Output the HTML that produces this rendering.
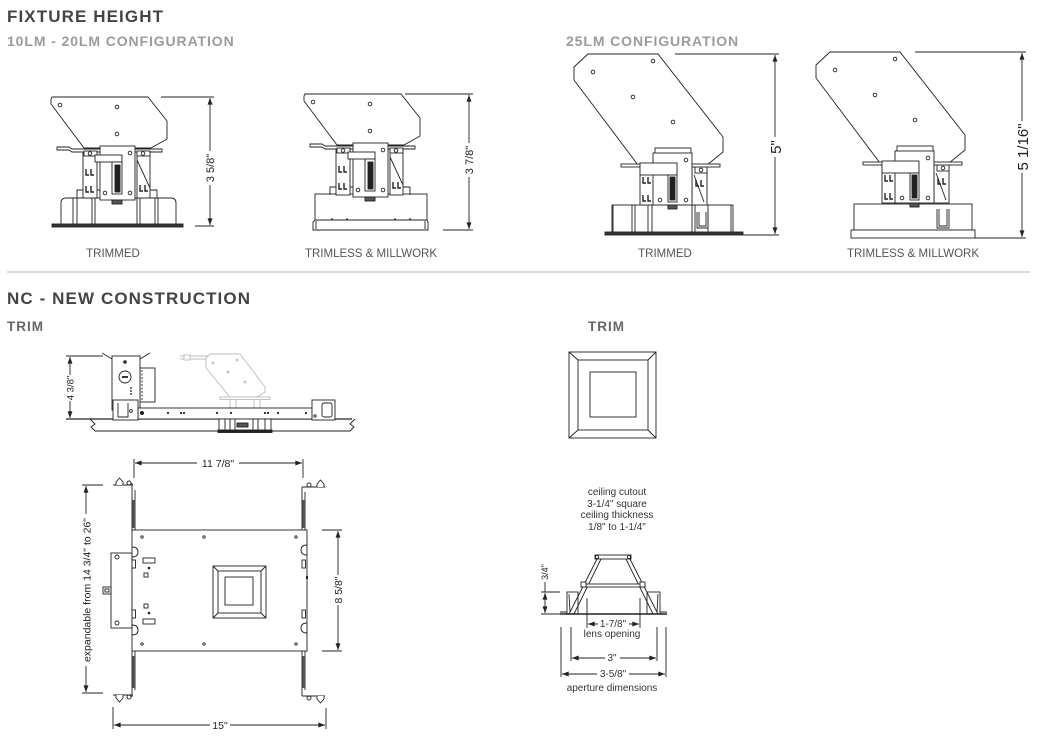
<!DOCTYPE html>
<html><head><meta charset="utf-8">
<style>
html,body{margin:0;padding:0;background:#fff;width:1039px;height:739px;overflow:hidden}
svg{display:block}
text{font-family:"Liberation Sans",Arial,sans-serif}
.h1{font-weight:bold;font-size:17px;fill:#444;letter-spacing:1.1px}
.h2{font-weight:bold;font-size:14px;fill:#9b9b9b;letter-spacing:0.9px}
.h3{font-weight:bold;font-size:13.5px;fill:#666;letter-spacing:1px}
.lb{font-size:11.5px;fill:#555}
.dm{font-size:10.5px;fill:#222}
.sm{font-size:10px;fill:#333}
</style></head><body>
<svg width="1039" height="739" viewBox="0 0 1039 739" xmlns="http://www.w3.org/2000/svg">
<defs>
<marker id="a" viewBox="0 0 8 6" refX="8" refY="3" markerWidth="7" markerHeight="5" orient="auto-start-reverse" markerUnits="userSpaceOnUse"><path d="M0,0L8,3L0,6Z" fill="#222"/></marker>
</defs>

<!-- Headings -->
<text class="h1" x="7" y="22">FIXTURE HEIGHT</text>
<text class="h2" x="7" y="46">10LM - 20LM CONFIGURATION</text>
<text class="h2" x="566" y="46">25LM CONFIGURATION</text>
<line x1="7" y1="272" x2="1030" y2="272" stroke="#cfcfcf" stroke-width="1.5"/>
<text class="h1" x="7" y="304">NC - NEW CONSTRUCTION</text>
<text class="h3" x="7" y="331">TRIM</text>
<text class="h3" x="588" y="331">TRIM</text>

<!-- ============ Fixture 1 (10LM trimmed) ============ -->
<g fill="#fff" stroke="#222" stroke-width="0.9">
  <path d="M61,225 L61,203 Q61,198 66,198 L171,198 Q176,198 176,203 L176,225"/>
  <path d="M73,198V225M77,198V225M92,198V225M95,198V225M137,198V225M140,198V225M155,198V225M158,198V225" fill="none"/>
  <rect x="52" y="224" width="131" height="3" fill="#333"/>
</g>
<g id="f1u" fill="#fff" stroke="#222" stroke-width="0.9">
  <path d="M52,97 L148,97 L167,121 L167,139 L151,148 L84,148 L51,104 L51,99 Z"/>
  <circle cx="60" cy="105" r="1.8"/>
  <circle cx="117" cy="107" r="1.8"/>
  <circle cx="117" cy="134" r="1.8"/>
  <path d="M77,198 V190 H83 M97,190 H100" fill="none"/>
  <rect x="83" y="152" width="14" height="46"/>
  <path d="M86,169v6h3M91,169v6h3M86,186v6h3M91,186v6h3" fill="none" stroke-width="1.4"/>
  <path d="M150,190 H157 V198" fill="none"/>
  <rect x="137" y="152" width="13" height="46"/>
  <path d="M137,160 L150,188" fill="none"/>
  <path d="M140,185v6h3M145,185v6h3" fill="none" stroke-width="1.4"/>
  <path d="M57,147 L69,147 L72,149 L162,149 L162,152 L72,152 L69,150 L57,150 Z"/>
  <rect x="84" y="151" width="13" height="5"/>
  <circle cx="90" cy="153.5" r="1.8"/>
  <rect x="137" y="151" width="13" height="5"/>
  <circle cx="143" cy="153.5" r="1.8"/>
  <rect x="100" y="146" width="35" height="54"/>
  <rect x="95" y="155" width="27" height="7"/>
  <rect x="112" y="162" width="10" height="32"/>
  <rect x="115" y="165" width="5" height="27" fill="#222"/>
  <circle cx="130" cy="153" r="1.8"/>
  <circle cx="105" cy="193" r="1.8"/>
  <circle cx="130" cy="193" r="1.8"/>
  <rect x="112" y="200" width="10" height="4" fill="#555"/>
</g>
<!-- dim 3 5/8 -->
<g stroke="#222" stroke-width="0.9" fill="none">
  <path d="M161,97H214M195,226H214"/>
  <line x1="210" y1="98" x2="210" y2="225" marker-start="url(#a)" marker-end="url(#a)"/>
</g>
<rect x="204" y="151" width="12" height="34" fill="#fff"/>
<text class="dm" style="font-size:11px" text-anchor="middle" transform="translate(214,168) rotate(-90)">3 5/8&quot;</text>
<text class="lb" x="113" y="257" text-anchor="middle">TRIMMED</text>

<!-- ============ Fixture 2 (10LM trimless) ============ -->
<g fill="#fff" stroke="#222" stroke-width="0.9">
  <rect x="315" y="194" width="112" height="26"/>
  <path d="M315,220 L313,222 L313,230 L428,230 L428,222 L427,220 Z"/>
  <path d="M316,221 V229 M425,221 V229" fill="none"/>
</g>
<use href="#f1u" transform="translate(253,-3)"/>
<g fill="#333"><circle cx="332" cy="219" r="0.9"/><circle cx="347" cy="219" r="0.9"/><circle cx="395" cy="219" r="0.9"/><circle cx="410" cy="219" r="0.9"/></g>
<g stroke="#222" stroke-width="0.9" fill="none">
  <path d="M405,94H473M443,230H473"/>
  <line x1="469" y1="95" x2="469" y2="229" marker-start="url(#a)" marker-end="url(#a)"/>
</g>
<rect x="463" y="143" width="12" height="34" fill="#fff"/>
<text class="dm" style="font-size:11px" text-anchor="middle" transform="translate(473,160) rotate(-90)">3 7/8&quot;</text>
<text class="lb" x="371" y="257" text-anchor="middle">TRIMLESS &amp; MILLWORK</text>

<!-- ============ Fixture 3 (25LM trimmed) ============ -->
<g fill="#fff" stroke="#222" stroke-width="0.9">
  <rect x="612" y="205" width="121" height="28"/>
  <path d="M613,205V233M632,205V233M635,205V233M648,205V233M652,205V233M692,205V233M695,205V233M708,205V233M731,205V233" fill="none"/>
  <path d="M697,212 V228 H708 V212 M699,212 V226 H706 V212" fill="none"/>
  <rect x="605" y="232" width="138" height="3" fill="#333"/>
</g>
<g id="f3u" fill="#fff" stroke="#222" stroke-width="0.9">
  <path d="M588,54 L658,54 L723,137 L723,152 L707,165 L638,165 L574,80 L574,67 Z"/>
  <circle cx="593" cy="72" r="1.8"/>
  <circle cx="653" cy="61" r="1.8"/>
  <circle cx="633" cy="97" r="1.8"/>
  <circle cx="673" cy="122" r="1.8"/>
  <rect x="640" y="165" width="15" height="40"/>
  <path d="M643,177v6h3M648,177v6h3M643,195v6h3M648,195v6h3" fill="none" stroke-width="1.4"/>
  <rect x="692" y="167" width="15" height="38"/>
  <path d="M694,175 L704,202" fill="none"/>
  <rect x="695" y="167" width="12" height="6"/>
  <circle cx="701" cy="170" r="1.8"/>
  <path d="M696,180v6h3M701,180v6h3" fill="none" stroke-width="1.4"/>
  <rect x="621" y="164" width="99" height="3"/>
  <rect x="655" y="148" width="36" height="6"/>
  <rect x="653" y="153" width="39" height="52"/>
  <rect x="640" y="163" width="37" height="12"/>
  <rect x="668" y="175" width="9" height="27"/>
  <rect x="670" y="177" width="5" height="23" fill="#222"/>
  <circle cx="686" cy="160" r="1.8"/>
  <circle cx="660" cy="200" r="1.8"/>
  <circle cx="686" cy="200" r="1.8"/>
  <rect x="668" y="205" width="9" height="4" fill="#555"/>
</g>
<g stroke="#222" stroke-width="0.9" fill="none">
  <path d="M675,54H779M743,235H779"/>
  <line x1="775" y1="55" x2="775" y2="234" marker-start="url(#a)" marker-end="url(#a)"/>
</g>
<rect x="767" y="137" width="16" height="20" fill="#fff"/>
<text class="dm" style="font-size:15px" text-anchor="middle" transform="translate(781,147) rotate(-90)">5&quot;</text>
<text class="lb" x="665" y="257" text-anchor="middle">TRIMMED</text>

<!-- ============ Fixture 4 (25LM trimless) ============ -->
<g fill="#fff" stroke="#222" stroke-width="0.9">
  <rect x="854" y="204" width="118" height="26"/>
  <rect x="851" y="230" width="124" height="8"/>
  <path d="M937,209 V228 H949 V209 M939,209 V226 H947 V209" fill="none"/>
</g>
<use href="#f3u" transform="translate(242,-2)"/>
<g stroke="#222" stroke-width="0.9" fill="none">
  <path d="M915,52H1026M975,238H1026"/>
  <line x1="1022" y1="53" x2="1022" y2="237" marker-start="url(#a)" marker-end="url(#a)"/>
</g>
<rect x="1014" y="121" width="16" height="52" fill="#fff"/>
<text class="dm" style="font-size:15px" text-anchor="middle" transform="translate(1028,147) rotate(-90)">5 1/16&quot;</text>
<text class="lb" x="913" y="257" text-anchor="middle">TRIMLESS &amp; MILLWORK</text>

<!-- ============ NC side view ============ -->
<g fill="#fff" stroke="#bbb" stroke-width="0.9">
  <path d="M180,356 H208 M180,359 H208" fill="none"/>
  <rect x="184" y="355" width="6" height="5"/>
  <rect x="230" y="399" width="30" height="10"/>
  <path d="M236,399V409 M254,399V409" fill="none"/>
  <path d="M210,354 L240,354 L265,387 L265,392 L257,397 L230,397 L206,368 L206,358 Z"/>
  <circle cx="213" cy="363" r="1"/><circle cx="237" cy="360" r="1"/><circle cx="228" cy="372" r="1"/><circle cx="245" cy="382" r="1"/>
  <rect x="220" y="397" width="50" height="2.5"/>
</g>
<g fill="#fff" stroke="#222" stroke-width="0.9">
  <path d="M66,419 H352" fill="none" stroke-width="1.2"/>
  <path d="M90,419 L95,424 L91,427 L95,431 H350 L354,427 L350,424 L355,419" fill="none"/>
  <path d="M102,353 L112,359 M150,353 L140,359" fill="none"/>
  <rect x="140" y="368" width="15" height="34"/>
  <path d="M142,370V400" fill="none" stroke-dasharray="2,1.5"/>
  <rect x="112" y="356" width="28" height="54"/>
  <circle cx="125" cy="362" r="1.3" fill="#333"/>
  <circle cx="125" cy="377" r="6"/>
  <rect x="122" y="376" width="6" height="2" fill="#333" stroke="none"/>
  <path d="M130,388h2M130,391h2M130,394h2" fill="none" stroke-width="1.3"/>
  <rect x="138" y="408" width="175" height="11"/>
  <rect x="113" y="400" width="25" height="20"/>
  <path d="M118,403 V417 H128 V403" fill="none"/>
  <circle cx="131" cy="411" r="1.4"/>
  <rect x="312" y="400" width="23" height="20"/>
  <rect x="322" y="403" width="10" height="14" rx="2"/>
  <circle cx="315" cy="416" r="1.2"/>
  <rect x="219" y="419" width="52" height="12"/>
  <path d="M225,419V431M230,419V431M235,419V431M253,419V431M258,419V431M265,419V431" fill="none"/>
  <rect x="237" y="423" width="11" height="4" fill="#555"/>
  <rect x="218" y="430" width="54" height="2.5" fill="#222"/>
</g>
<g fill="#222">
  <circle cx="142" cy="413" r="2"/><circle cx="168" cy="413" r="1.1"/><circle cx="181" cy="413" r="1.1"/><circle cx="184" cy="413" r="1.1"/>
  <circle cx="217" cy="413" r="1.1"/><circle cx="231" cy="413" r="1.1"/><circle cx="265" cy="413" r="1.1"/><circle cx="268" cy="413" r="1.1"/>
  <circle cx="278" cy="413" r="1.1"/><circle cx="306" cy="413" r="1.1"/>
</g>
<g stroke="#222" stroke-width="0.9" fill="none">
  <path d="M66,356H103"/>
  <line x1="70" y1="357" x2="70" y2="418" marker-start="url(#a)" marker-end="url(#a)"/>
</g>
<rect x="65" y="375" width="10" height="26" fill="#fff"/>
<text class="dm" style="font-size:9.5px" text-anchor="middle" transform="translate(73.5,388) rotate(-90)">4 3/8&quot;</text>

<!-- ============ Plan view ============ -->
<g fill="#fff" stroke="#222" stroke-width="0.9">
  <rect x="111" y="553" width="21" height="75"/>
  <rect x="103" y="587" width="8" height="7"/>
  <rect x="105" y="589" width="4" height="3"/>
  <circle cx="117" cy="557" r="2"/>
  <circle cx="117" cy="623" r="2"/>
  <path d="M132,483 V530 M135,490 V530 M132,651 V697 M135,651 V690 M302,487 V530 M305,492 V530 M302,651 V696 M305,651 V690" fill="none"/>
  <path d="M113,485 H133 M302,487 H325 M113,695 H133 M302,696 H325" fill="none"/>
  <path d="M116,485 V482 L119.5,478 L123,482 V485"/>
  <path d="M317,487 V484 L320.5,480 L324,484 V487"/>
  <path d="M116,695 V698 L119.5,702 L123,698 V695"/>
  <path d="M317,696 V699 L320.5,703 L324,699 V696"/>
  <circle cx="129" cy="483" r="2"/>
  <circle cx="309" cy="485" r="2"/>
  <circle cx="129" cy="697" r="2"/>
  <circle cx="309" cy="698" r="2"/>
  <rect x="132" y="530" width="175" height="121"/>
  <circle cx="142" cy="537" r="1.2"/><circle cx="204" cy="537" r="1.2"/><circle cx="296" cy="537" r="1.2"/>
  <circle cx="142" cy="644" r="1.2"/><circle cx="204" cy="644" r="1.2"/><circle cx="296" cy="644" r="1.2"/>
  <rect x="143" y="558" width="12" height="5"/>
  <rect x="143" y="619" width="12" height="5"/>
  <rect x="144" y="573" width="4" height="4"/>
  <rect x="144" y="604" width="4" height="4"/>
  <path d="M132,547 q6,0 6,5 q0,5 -6,5 M132,625 q6,0 6,5 q0,5 -6,5 M307,545 q-6,0 -6,5 q0,5 6,5 M307,623 q-6,0 -6,5 q0,5 6,5" fill="none"/>
  <rect x="132" y="560" width="3.5" height="8"/>
  <rect x="132" y="610" width="3.5" height="8"/>
  <rect x="302" y="560" width="3.5" height="8"/>
  <rect x="302" y="610" width="3.5" height="8"/>
  <rect x="213" y="566" width="53" height="52"/>
  <rect x="218" y="571" width="43" height="42"/>
  <path d="M213,566 L218,571 M266,566 L261,571 M213,618 L218,613 M266,618 L261,613" fill="none"/>
  <rect x="225" y="577" width="28" height="28"/>
</g>
<g fill="#555" stroke="none">
  <rect x="132.5" y="500" width="2.5" height="28"/>
  <rect x="132.5" y="656" width="2.5" height="32"/>
  <rect x="302.5" y="500" width="2.5" height="28"/>
  <rect x="302.5" y="656" width="2.5" height="32"/>
  <circle cx="149" cy="568" r="1.3" fill="#222"/>
  <circle cx="149" cy="613" r="1.3" fill="#222"/>
  <rect x="306" y="576" width="2" height="3" fill="#222"/>
</g>
<g stroke="#222" stroke-width="0.9" fill="none">
  <path d="M134,459V478M303,459V478"/>
  <line x1="135" y1="463" x2="302" y2="463" marker-start="url(#a)" marker-end="url(#a)"/>
  <path d="M82,485H103M82,693H103"/>
  <line x1="86" y1="486" x2="86" y2="692" marker-start="url(#a)" marker-end="url(#a)"/>
  <path d="M322,530H342M322,651H342"/>
  <line x1="338" y1="531" x2="338" y2="650" marker-start="url(#a)" marker-end="url(#a)"/>
  <path d="M113,707V729M326,708V729"/>
  <line x1="114" y1="725" x2="325" y2="725" marker-start="url(#a)" marker-end="url(#a)"/>
</g>
<rect x="197" y="457" width="42" height="12" fill="#fff"/>
<text class="dm" x="218" y="467" text-anchor="middle">11 7/8&quot;</text>
<rect x="80" y="514" width="13" height="152" fill="#fff"/>
<text class="dm" text-anchor="middle" transform="translate(90.5,590) rotate(-90)">expandable from 14 3/4&quot; to 26&quot;</text>
<rect x="332" y="575" width="12" height="30" fill="#fff"/>
<text class="dm" text-anchor="middle" transform="translate(342,590) rotate(-90)">8 5/8&quot;</text>
<rect x="210" y="719" width="20" height="12" fill="#fff"/>
<text class="dm" x="220" y="729" text-anchor="middle">15&quot;</text>

<!-- ============ Right trim ============ -->
<g fill="#fff" stroke="#222" stroke-width="0.9">
  <rect x="569" y="352" width="87" height="86"/>
  <rect x="578" y="360" width="70" height="70"/>
  <path d="M569,352 L578,360 M656,352 L648,360 M569,438 L578,430 M656,438 L648,430" fill="none"/>
  <rect x="590" y="372" width="46" height="45"/>
</g>

<!-- ============ Cross section ============ -->
<text class="sm" x="617" y="495" text-anchor="middle">ceiling cutout</text>
<text class="sm" x="617" y="507" text-anchor="middle">3-1/4&quot; square</text>
<text class="sm" x="617" y="518" text-anchor="middle">ceiling thickness</text>
<text class="sm" x="617" y="530" text-anchor="middle">1/8&quot; to 1-1/4&quot;</text>
<g fill="#fff" stroke="#222" stroke-width="0.9">
  <rect x="567" y="592" width="11" height="22"/>
  <rect x="647" y="592" width="13" height="22"/>
  <path d="M569,594 L570,612 M658,594 L657,612" fill="none"/>
  <path d="M597,559 L569,614 M601,559 L574,614 M630,559 L658,614 M626,559 L653,614" fill="none"/>
  <rect x="595" y="555" width="36" height="4"/>
  <circle cx="597" cy="557" r="1.6"/>
  <circle cx="629" cy="557" r="1.6"/>
  <rect x="582" y="584" width="63" height="3"/>
  <rect x="581" y="582" width="5" height="5"/>
  <rect x="640" y="582" width="5" height="5"/>
  <path d="M560,614 H667" fill="none" stroke-width="1.4"/>
  <path d="M560,612 H567 M660,612 H667" fill="none"/>
</g>
<g stroke="#222" stroke-width="0.9" fill="none">
  <path d="M541,592H560M541,614H560"/>
  <path d="M545,582V592"/>
  <line x1="545" y1="593" x2="545" y2="613" marker-start="url(#a)" marker-end="url(#a)"/>
  <path d="M587,598V628M640,598V628"/>
  <line x1="588" y1="624" x2="639" y2="624" marker-start="url(#a)" marker-end="url(#a)"/>
  <path d="M571,627V661M657,627V661"/>
  <line x1="572" y1="658" x2="656" y2="658" marker-start="url(#a)" marker-end="url(#a)"/>
  <path d="M561,627V677M666,627V677"/>
  <line x1="562" y1="674" x2="665" y2="674" marker-start="url(#a)" marker-end="url(#a)"/>
</g>
<text class="dm" style="font-size:9px" text-anchor="middle" transform="translate(548,572) rotate(-90)">3/4&quot;</text>
<rect x="598" y="618" width="31" height="12" fill="#fff"/>
<text class="sm" x="613" y="627" text-anchor="middle">1-7/8&quot;</text>
<text class="sm" x="612" y="637" text-anchor="middle">lens opening</text>
<rect x="605" y="652" width="15" height="12" fill="#fff"/>
<text class="sm" x="612" y="661" text-anchor="middle">3&quot;</text>
<rect x="597" y="668" width="32" height="12" fill="#fff"/>
<text class="sm" x="613" y="677" text-anchor="middle">3-5/8&quot;</text>
<text class="sm" x="612" y="691" text-anchor="middle">aperture dimensions</text>
</svg>
</body></html>
